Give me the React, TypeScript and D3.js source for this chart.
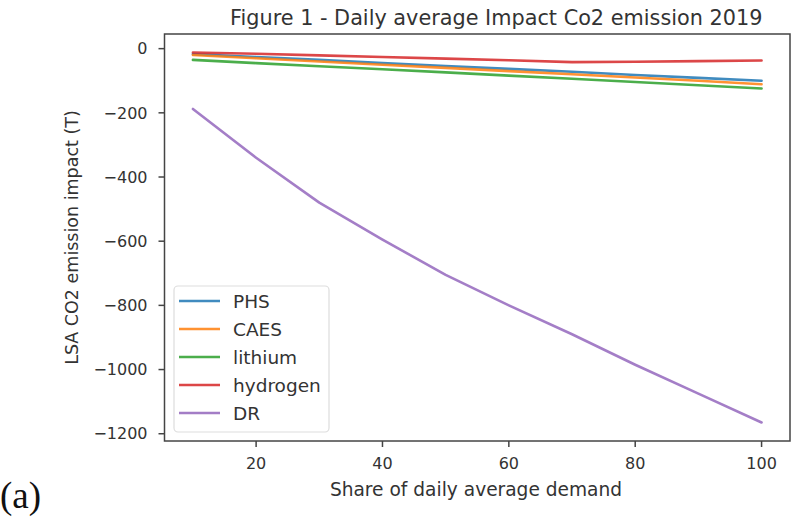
import React from "react";
import * as d3 from "d3";

const shares = [10, 20, 30, 40, 50, 60, 70, 80, 90, 100];
const PHS = [-17, -26, -35, -45, -54, -63, -72, -82, -91, -100];
const CAES = [-20, -30, -40, -50, -60, -70, -80, -90, -100, -111];
const lithium = [-35, -45, -55, -64, -74, -84, -94, -104, -114, -124];
const hydrogen = [-12, -16, -21, -26, -31, -36, -42, -41, -39, -37];
const DR = [-188, -340, -480, -595, -705, -800, -890, -985, -1075, -1165];

const seriesNames = ["PHS", "CAES", "lithium", "hydrogen", "DR"];
const seriesValues = [PHS, CAES, lithium, hydrogen, DR];
const seriesColors = ["#1f77b4", "#ff7f0e", "#2ca02c", "#d62728", "#9467bd"];
const xTicks = [20, 40, 60, 80, 100];
const yTicks = [0, -200, -400, -600, -800, -1000, -1200];

const title = "Figure 1 - Daily average Impact Co2 emission 2019";
const xLabel = "Share of daily average demand";
const yLabel = "LSA CO2 emission impact (T)";

export default function App() {
  const W = 795, H = 519;
  const left = 164.5, right = 790, top = 34, bottom = 441;
  const xMin = d3.min(shares)!, xMax = d3.max(shares)!;
  const xPad = (xMax - xMin) * 0.05;
  const all = seriesValues.flat();
  const yMin = d3.min(all)!, yMax = d3.max(all)!;
  const yPad = (yMax - yMin) * 0.05;
  const x = d3.scaleLinear().domain([xMin - xPad, xMax + xPad]).range([left, right]);
  const y = d3.scaleLinear().domain([yMin - yPad, yMax + yPad]).range([bottom, top]);
  const line = d3.line<[number, number]>().x(d => x(d[0])).y(d => y(d[1]));
  const font = "DejaVu Sans, sans-serif";
  const textColor = "#333";
  const fmt = (v: number) => (v < 0 ? "\u2212" + Math.abs(v) : String(v));

  const legX = 174, legY = 286, legW = 155, legH = 146, rowH = 28;

  return (
    <svg width={W} height={H} style={{ position: "absolute", left: 0, top: 0, background: "#fff" }}>
      <rect x={0} y={0} width={W} height={H} fill="#fff" />
      <text x={(left + right) / 2 + 19} y={25} textAnchor="middle" fontFamily={font} fontSize={20.8} fill={textColor}>{title}</text>
      {seriesValues.map((vals, i) => (
        <path key={seriesNames[i]} d={line(shares.map((s, j) => [s, vals[j]]))!} fill="none"
          stroke={seriesColors[i]} strokeWidth={2.6} strokeLinejoin="round" strokeLinecap="round" opacity={0.85} />
      ))}
      {/* spines */}
      <rect x={left} y={top} width={right - left} height={bottom - top} fill="none" stroke="#444" strokeWidth={1.5} />
      {xTicks.map(t => (
        <g key={"x" + t}>
          <line x1={x(t)} x2={x(t)} y1={bottom} y2={bottom + 6} stroke="#444" strokeWidth={1.5} />
          <text x={x(t)} y={bottom + 28} textAnchor="middle" fontFamily={font} fontSize={16} fill={textColor}>{fmt(t)}</text>
        </g>
      ))}
      {yTicks.map(t => (
        <g key={"y" + t}>
          <line x1={left - 6} x2={left} y1={y(t)} y2={y(t)} stroke="#444" strokeWidth={1.5} />
          <text x={left - 17} y={y(t)} dy="0.36em" textAnchor="end" fontFamily={font} fontSize={16} fill={textColor}>{fmt(t)}</text>
        </g>
      ))}
      <text x={476} y={496} textAnchor="middle" fontFamily={font} fontSize={18.6} fill={textColor}>{xLabel}</text>
      <text transform={`translate(78,${(top + bottom) / 2}) rotate(-90)`} textAnchor="middle" fontFamily={font} fontSize={17.5} fill={textColor}>{yLabel}</text>
      {/* legend */}
      <rect x={legX} y={legY} width={legW} height={legH} rx={4} fill="#fff" fillOpacity={0.8} stroke="#ddd" strokeWidth={1.2} />
      {seriesNames.map((n, i) => (
        <g key={"leg" + n}>
          <line x1={legX + 5} x2={legX + 46} y1={legY + 15 + i * rowH} y2={legY + 15 + i * rowH}
            stroke={seriesColors[i]} strokeWidth={2.6} opacity={0.85} />
          <text x={legX + 59} y={legY + 15 + i * rowH} dy="0.36em" fontFamily={font} fontSize={18.5} fill={textColor}>{n}</text>
        </g>
      ))}
      <text x={0} y={508} fontFamily="Liberation Serif, serif" fontSize={37} fill="#111">(a)</text>
    </svg>
  );
}
